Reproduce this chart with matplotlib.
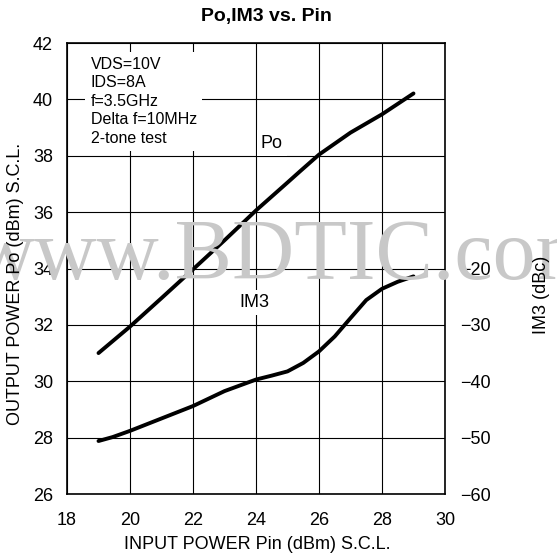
import numpy as np
import matplotlib.pyplot as plt

plt.rcParams['font.family'] = ['Liberation Sans', 'DejaVu Sans']

# input power sweep (dBm)
pin_po = [19.0, 20.0, 21.0, 22.0, 23.0, 24.0, 25.0, 25.4, 26.0, 27.0, 28.0, 29.0]
po = [31.0, 31.94, 32.95, 33.97, 35.0, 36.06, 37.05, 37.45, 38.04, 38.82, 39.47, 40.21]

pin_im3 = [19.0, 19.45, 20.0, 21.0, 22.0, 23.0, 24.0, 24.5, 25.0, 25.5, 26.0, 26.5,
           27.0, 27.5, 28.0, 28.5, 29.0]
im3 = [-50.6, -49.9, -48.8, -46.6, -44.4, -41.75, -39.7, -39.0, -38.25, -36.75, -34.7,
       -32.05, -28.8, -25.6, -23.6, -22.35, -21.4]

x_ticks = [18, 20, 22, 24, 26, 28, 30]
po_ticks = [26, 28, 30, 32, 34, 36, 38, 40, 42]
im3_ticks = [-60, -50, -40, -30, -20]

conditions = 'VDS=10V\nIDS=8A\nf=3.5GHz\nDelta f=10MHz\n2-tone test'

fig = plt.figure(figsize=(5.57, 5.57), dpi=100)
fig.patch.set_facecolor('white')

# watermark behind the plot
fig.text(-0.048, 0.5, 'www.BDTIC.com', family='Liberation Serif', fontsize=62,
         color='#c8c8c8', ha='left', va='baseline', zorder=0)

ax = fig.add_axes([0.1203, 0.1131, 0.6786, 0.8097])
ax.patch.set_alpha(0)
ax.set_xlim(18, 30)
ax.set_ylim(26, 42)
ax.set_xticks(x_ticks)
ax.set_yticks(po_ticks)
ax.grid(True, color='black', linewidth=0.8)
ax.tick_params(length=0, labelsize=13)
ax.tick_params(axis='y', pad=10)
ax.tick_params(axis='x', pad=13)
for s in ax.spines.values():
    s.set_linewidth(1.2)

ax.plot(pin_po, po, color='black', linewidth=2.8, solid_capstyle='round', zorder=5)

ax2 = ax.twinx()
ax2.set_ylim(-60, 20)
ax2.set_yticks(im3_ticks)
ax2.tick_params(length=0, labelsize=13, pad=11)
ax2.plot(pin_im3, im3, color='black', linewidth=2.8, solid_capstyle='round', zorder=5)
for s in ax2.spines.values():
    s.set_visible(False)

# text boxes hide the grid underneath
ax.text(18.75, 41.5, conditions, fontsize=11.5, va='top', ha='left', linespacing=1.28,
        bbox=dict(facecolor='white', edgecolor='none', pad=4), zorder=6)
ax.text(24.5, 38.45, 'Po', fontsize=13, ha='center', va='center',
        bbox=dict(facecolor='white', edgecolor='none', pad=3), zorder=6)
ax.text(23.95, 32.8, 'IM3', fontsize=13, ha='center', va='center',
        bbox=dict(facecolor='white', edgecolor='none', pad=3), zorder=6)

fig.suptitle('Po,IM3 vs. Pin', x=0.478, y=0.985, fontsize=14, fontweight='bold')
fig.text(0.462, 0.022, 'INPUT POWER Pin (dBm) S.C.L.', fontsize=13, ha='center', va='center')
fig.text(0.028, 0.49, 'OUTPUT POWER Po (dBm) S.C.L.', fontsize=13, rotation=90,
         ha='center', va='center')
fig.text(0.972, 0.47, 'IM3 (dBc)', fontsize=13, rotation=90, ha='center', va='center')

fig.savefig('out.png', dpi=100)
